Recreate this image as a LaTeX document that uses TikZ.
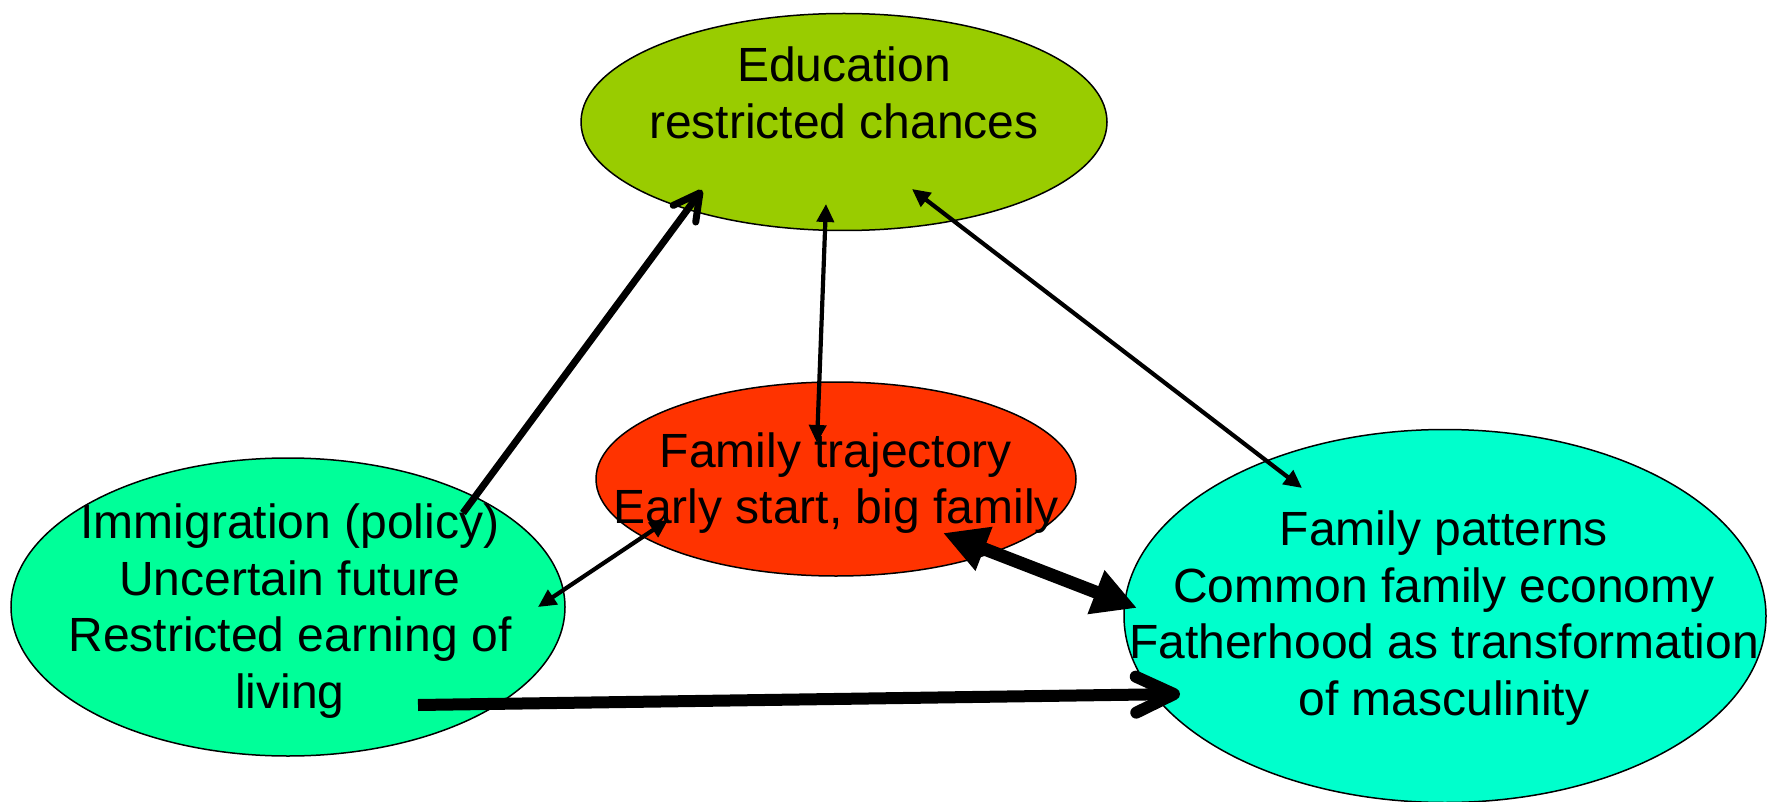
\documentclass[tikz,border=0pt]{standalone}
\usepackage{fontspec}
\setmainfont{Liberation Sans}
\usetikzlibrary{arrows.meta,shapes.geometric}
\definecolor{educol}{HTML}{99CC00}
\definecolor{trajcol}{HTML}{FF3300}
\definecolor{immcol}{HTML}{00FF99}
\definecolor{patcol}{HTML}{00FFCC}
\begin{document}
\begin{tikzpicture}[x=0.5pt,y=-0.5pt,
  bubble/.style={ellipse,draw=black,line width=0.75pt,inner sep=0pt},
  lbl/.style={align=center,font=\fontsize{24}{28.25}\selectfont,inner sep=0pt},
  thinarrow/.style={line width=2.1pt,{Triangle[length=9pt,width=8.5pt]}-{Triangle[length=9pt,width=8.5pt]}},
  bigtwoway/.style={line width=6.5pt,{Triangle[length=22pt,width=22pt]}-{Triangle[length=22pt,width=22pt]}}]
\useasboundingbox (0,0) rectangle (1772,802);
% ellipses
\node[bubble,fill=educol,minimum width=263pt,minimum height=108.5pt] (edu) at (844,122) {};
\node[bubble,fill=trajcol,minimum width=240pt,minimum height=97pt] (traj) at (836,479) {};
\node[bubble,fill=immcol,minimum width=277pt,minimum height=149pt] (imm) at (288,607) {};
\node[bubble,fill=patcol,minimum width=321pt,minimum height=186.5pt] (pat) at (1445,616) {};
% texts
\node[lbl] (edut) at (844,93) {Education\\restricted chances};
\node[lbl] (trajt) at (836,483) {Family trajectory\\Early start, big family};
\node[lbl] (immt) at (290,611) {Immigration (policy)\\Uncertain future\\Restricted earning of\\living};
\node[lbl] (patt) at (1444,618) {Family patterns\\Common family economy\\Fatherhood as transformation\\of masculinity};
% connector end points
\coordinate (a1s) at (463,513); \coordinate (a1e) at (702,190);
\coordinate (a2s) at (826,204); \coordinate (a2e) at (817,443);
\coordinate (a3s) at (912,189); \coordinate (a3e) at (1302,488);
\coordinate (a4s) at (538,607); \coordinate (a4e) at (668,520);
\coordinate (a5s) at (943,533); \coordinate (a5e) at (1137,608);
\coordinate (a6s) at (418,705); \coordinate (a6e) at (1180,694);
% connectors
\draw[line width=3.5pt,-{Straight Barb[length=13pt,width=14pt,round]}] (a1s) -- (a1e);
\draw[thinarrow] (a2s) -- (a2e);
\draw[thinarrow] (a3s) -- (a3e);
\draw[thinarrow] (a4s) -- (a4e);
\draw[bigtwoway] (a5s) -- (a5e);
\draw[line width=6pt,-{Straight Barb[length=19pt,width=18pt,round]}] (a6s) -- (a6e);
\end{tikzpicture}
\end{document}
